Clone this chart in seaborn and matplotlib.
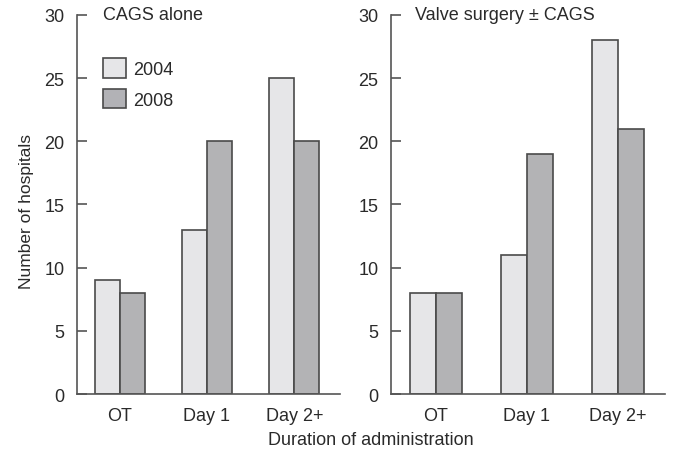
import pandas as pd
import matplotlib.pyplot as plt
import seaborn as sns
from matplotlib.patches import Patch

# Data
categories = ["OT", "Day 1", "Day 2+"]
years = ["2004", "2008"]
cags_2004 = [9, 13, 25]
cags_2008 = [8, 20, 20]
valve_2004 = [8, 11, 28]
valve_2008 = [8, 19, 21]

panel_titles = ["CAGS alone", "Valve surgery \u00b1 CAGS"]
colors = {"2004": "#e6e6e8", "2008": "#b2b2b6"}
edge = "#4a4a4a"
text_col = "#2a2a2a"


def long_frame(v2004, v2008):
    rows = []
    for c, a, b in zip(categories, v2004, v2008):
        rows.append({"cat": c, "year": "2004", "n": a})
        rows.append({"cat": c, "year": "2008", "n": b})
    return pd.DataFrame(rows)


sns.set_style("white")
plt.rcParams["font.family"] = ["Liberation Sans", "DejaVu Sans"]

fig = plt.figure(figsize=(6.74, 4.52), dpi=100)
ax1 = fig.add_axes([0.114, 0.126, 0.39, 0.839])
ax2 = fig.add_axes([0.580, 0.126, 0.407, 0.839])

frames = [long_frame(cags_2004, cags_2008), long_frame(valve_2004, valve_2008)]
title_x = [0.099, 0.088]

for ax, df, title, tx in zip([ax1, ax2], frames, panel_titles, title_x):
    sns.barplot(data=df, x="cat", y="n", hue="year", order=categories,
                hue_order=years, palette=colors, width=0.57, gap=0,
                edgecolor=edge, linewidth=1.2, legend=False, ax=ax)
    ax.set_ylim(0, 30)
    ax.set_xlim(-0.49, 2.52)
    ax.set_yticks(range(0, 31, 5))
    ax.set_xlabel("")
    ax.set_ylabel("")
    sns.despine(ax=ax)
    for s in ["left", "bottom"]:
        ax.spines[s].set_color("#555555")
        ax.spines[s].set_linewidth(1.2)
    ax.tick_params(axis="y", direction="in", length=7, width=1.2, color="#555555",
                   labelsize=13, labelcolor=text_col, pad=9, left=True)
    ax.tick_params(axis="x", length=0, labelsize=13, labelcolor=text_col, pad=9)
    ax.text(tx, 30, title, fontsize=13, color=text_col, va="center",
            transform=ax.get_yaxis_transform())

handles = [Patch(facecolor=colors[y], edgecolor=edge, linewidth=1.2, label=y) for y in years]
ax1.legend(handles=handles, loc="upper left", bbox_to_anchor=(0.099, 0.885),
           borderaxespad=0, borderpad=0, frameon=False, fontsize=13,
           handlelength=1.3, handleheight=1.25, handletextpad=0.4,
           labelspacing=0.6, labelcolor=text_col)

fig.text(0.039, 0.531, "Number of hospitals", rotation=90, ha="center",
         va="center", fontsize=12.5, color=text_col)
fig.text(0.55, 0.025, "Duration of administration", ha="center",
         va="center", fontsize=13, color=text_col)

fig.savefig("out.png", dpi=100)
